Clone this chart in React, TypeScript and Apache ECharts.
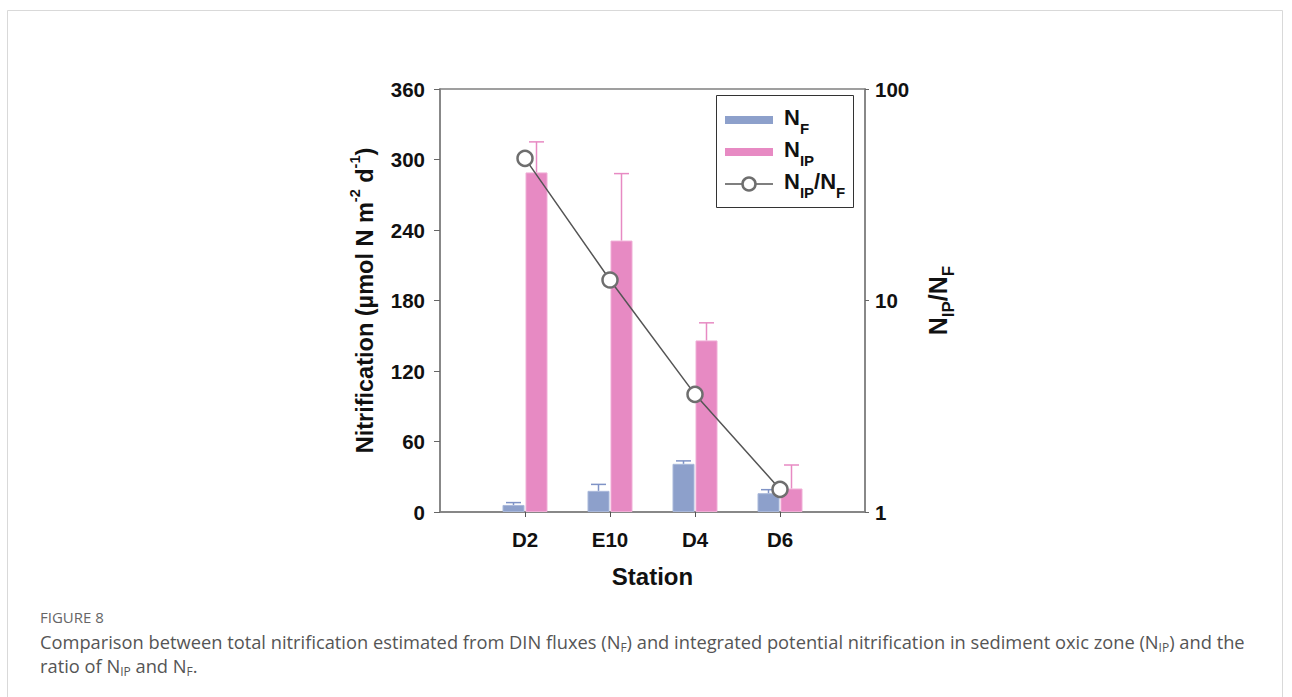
import React, { useEffect, useRef } from "react";
import * as echarts from "echarts";

const stations = ["D2", "E10", "D4", "D6"];
const nfValues = [6, 18, 41, 16];
const nfErrors = [2, 5.5, 2.5, 3];
const nipValues = [289, 231, 146, 20];
const nipErrors = [26, 57, 15, 20];
const ratioValues = [47, 12.5, 3.6, 1.28];
const leftTicks = { min: 0, max: 360, interval: 60 };
const rightTicks = { min: 1, max: 100 };

const NF_COLOR = "#8DA0CB";
const NIP_COLOR = "#E78AC3";
const BAR_W = 22;
const BAR_GAP_PX = 1;
const FONT = "Liberation Sans, Arial, sans-serif";
const CAP_FONT = "Open Sans, Lato, sans-serif";

export default function App() {
  const ref = useRef<HTMLDivElement>(null);
  useEffect(() => {
    if (!ref.current) return;
    const chart = echarts.init(ref.current, null, { renderer: "svg" });
    const cats = ["", ...stations, ""];
    const pad = (arr: number[]) => ["-", ...arr, "-"];
    const errData = (vals: number[], errs: number[]) =>
      vals.map((v, i) => [i + 1, v, errs[i]]);
    const offNF = -(BAR_W / 2 + BAR_GAP_PX / 2);
    const offNIP = BAR_W / 2 + BAR_GAP_PX / 2;

    const errSeries = (vals: number[], errs: number[], off: number, color: string) => ({
      type: "custom",
      xAxisIndex: 0,
      yAxisIndex: 0,
      z: 3,
      silent: true,
      data: errData(vals, errs),
      renderItem: (params: any, api: any) => {
        const idx = api.value(0);
        const v = api.value(1);
        const e = api.value(2);
        const p0 = api.coord([idx, v]);
        const p1 = api.coord([idx, v + e]);
        const x = p0[0] + off;
        const style = { stroke: color, lineWidth: 1.5 };
        return {
          type: "group",
          children: [
            { type: "line", shape: { x1: x, y1: p0[1], x2: x, y2: p1[1] }, style },
            { type: "line", shape: { x1: x - 7.5, y1: p1[1], x2: x + 7.5, y2: p1[1] }, style },
          ],
        };
      },
    });

    const axisLabelStyle = { fontFamily: FONT, fontWeight: "bold", fontSize: 20.5, color: "#111" };
    const legendRich = {
      t: { fontFamily: FONT, fontWeight: "bold", fontSize: 22, fill: "#111", lineHeight: 30, verticalAlign: "top" },
      s: { fontFamily: FONT, fontWeight: "bold", fontSize: 15, fill: "#111", lineHeight: 30, verticalAlign: "bottom" },
    };
    const capRich = {
      t: { fontFamily: CAP_FONT, fontSize: 18.3, fill: "#555", lineHeight: 24, verticalAlign: "middle" },
      s: { fontFamily: CAP_FONT, fontSize: 12, fill: "#555", lineHeight: 24, verticalAlign: "bottom" },
    };

    const option: any = {
      animation: false,
      backgroundColor: "#fff",
      grid: {
        left: 440,
        right: 1292 - 865,
        top: 89,
        bottom: 697 - 512,
        show: true,
        borderColor: "#808080",
        borderWidth: 1.5,
      },
      xAxis: {
        type: "category",
        data: cats,
        boundaryGap: false,
        axisLine: { lineStyle: { color: "#808080", width: 1.5 } },
        axisTick: {
          length: 5,
          interval: (i: number) => i > 0 && i < cats.length - 1,
          lineStyle: { color: "#555" },
        },
        axisLabel: { ...axisLabelStyle, interval: 0, margin: 17 },
        name: "Station",
        nameLocation: "middle",
        nameGap: 52,
        nameTextStyle: { fontFamily: FONT, fontWeight: "bold", fontSize: 24, color: "#111" },
        splitLine: { show: false },
      },
      yAxis: [
        {
          type: "value",
          min: leftTicks.min,
          max: leftTicks.max,
          interval: leftTicks.interval,
          axisLine: { show: true, lineStyle: { color: "#808080", width: 1.5 } },
          axisTick: { show: true, length: 6, lineStyle: { color: "#666" } },
          axisLabel: { ...axisLabelStyle, margin: 15 },
          splitLine: { show: false },
          name: "{t|Nitrification (µmol N m}{s|-2}{t| d}{s|-1}{t|)}",
          nameLocation: "middle",
          nameGap: 63,
          nameTextStyle: {
            rich: {
              t: { fontFamily: FONT, fontWeight: "bold", fontSize: 23.5, color: "#111", lineHeight: 30, verticalAlign: "bottom" },
              s: { fontFamily: FONT, fontWeight: "bold", fontSize: 14.5, color: "#111", lineHeight: 30, verticalAlign: "top" },
            },
          },
        },
        {
          type: "log",
          logBase: 10,
          min: rightTicks.min,
          max: rightTicks.max,
          position: "right",
          axisLine: { show: true, lineStyle: { color: "#808080", width: 1.5 } },
          axisTick: { show: true, length: 4, lineStyle: { color: "#666" } },
          minorTick: { show: false },
          axisLabel: { ...axisLabelStyle, margin: 10 },
          splitLine: { show: false },
          name: "{t|N}{s|IP}{t|/N}{s|F}",
          nameLocation: "middle",
          nameRotate: 90,
          nameGap: 60,
          nameTextStyle: {
            rich: {
              t: { fontFamily: FONT, fontWeight: "bold", fontSize: 25, color: "#111", lineHeight: 32, verticalAlign: "top" },
              s: { fontFamily: FONT, fontWeight: "bold", fontSize: 17, color: "#111", lineHeight: 32, verticalAlign: "bottom" },
            },
          },
        },
      ],
      series: [
        {
          name: "NF",
          type: "bar",
          data: pad(nfValues),
          barWidth: BAR_W,
          barGap: (BAR_GAP_PX / BAR_W) * 100 + "%",
          itemStyle: { color: NF_COLOR, borderColor: "#A9B8DA", borderWidth: 1 },
          z: 2,
        },
        {
          name: "NIP",
          type: "bar",
          data: pad(nipValues),
          barWidth: BAR_W,
          itemStyle: { color: NIP_COLOR, borderColor: "#F0AED6", borderWidth: 1 },
          z: 2,
        },
        errSeries(nfValues, nfErrors, offNF, "#7F93C6"),
        errSeries(nipValues, nipErrors, offNIP, "#E78AC3"),
        {
          name: "NIP/NF",
          type: "line",
          yAxisIndex: 1,
          data: pad(ratioValues),
          symbol: "circle",
          symbolSize: 15,
          lineStyle: { color: "#555", width: 1.5 },
          itemStyle: { color: "#fff", borderColor: "#6e6e6e", borderWidth: 2.5 },
          z: 5,
        },
      ],
      graphic: [
        // card border
        { type: "rect", shape: { x: 7.5, y: 10.5, width: 1275, height: 720 }, style: { fill: "none", stroke: "#d9d9d9", lineWidth: 1 }, z: -10 },
        // legend
        { type: "rect", shape: { x: 716.5, y: 95.5, width: 137, height: 112 }, style: { fill: "#fff", stroke: "#333", lineWidth: 1 }, z: 20 },
        { type: "rect", shape: { x: 725, y: 116, width: 48, height: 8 }, style: { fill: NF_COLOR }, z: 21 },
        {
          type: "text", x: 784, y: 121, z: 21,
          style: { text: "{t|N}{s|F}", verticalAlign: "middle", align: "left", rich: legendRich },
        },
        { type: "rect", shape: { x: 725, y: 148, width: 48, height: 8 }, style: { fill: NIP_COLOR }, z: 21 },
        {
          type: "text", x: 784, y: 153, z: 21,
          style: { text: "{t|N}{s|IP}", verticalAlign: "middle", align: "left", rich: legendRich },
        },
        { type: "line", shape: { x1: 725, y1: 184, x2: 773, y2: 184 }, style: { stroke: "#555", lineWidth: 1.5 }, z: 21 },
        { type: "circle", shape: { cx: 749, cy: 184, r: 6.5 }, style: { fill: "#fff", stroke: "#6e6e6e", lineWidth: 2.5 }, z: 22 },
        {
          type: "text", x: 784, y: 185, z: 21,
          style: { text: "{t|N}{s|IP}{t|/N}{s|F}", verticalAlign: "middle", align: "left", rich: legendRich },
        },
        // caption
        {
          type: "text", x: 40, y: 617,
          style: { text: "FIGURE 8", fontFamily: CAP_FONT, fontSize: 15, fill: "#666", verticalAlign: "middle" },
        },
        {
          type: "text", x: 40, y: 641,
          style: {
            text: "{t|Comparison between total nitrification estimated from DIN fluxes (N}{s|F}{t|) and integrated potential nitrification in sediment oxic zone (N}{s|IP}{t|) and the}",
            verticalAlign: "middle",
            rich: capRich,
          },
        },
        {
          type: "text", x: 40, y: 665,
          style: {
            text: "{t|ratio of N}{s|IP}{t| and N}{s|F}{t|.}",
            verticalAlign: "middle",
            rich: capRich,
          },
        },
      ],
    };
    chart.setOption(option);
    return () => chart.dispose();
  }, []);
  return (
    <div
      ref={ref}
      style={{ position: "fixed", left: 0, top: 0, width: 1292, height: 697, background: "#fff" }}
    />
  );
}
